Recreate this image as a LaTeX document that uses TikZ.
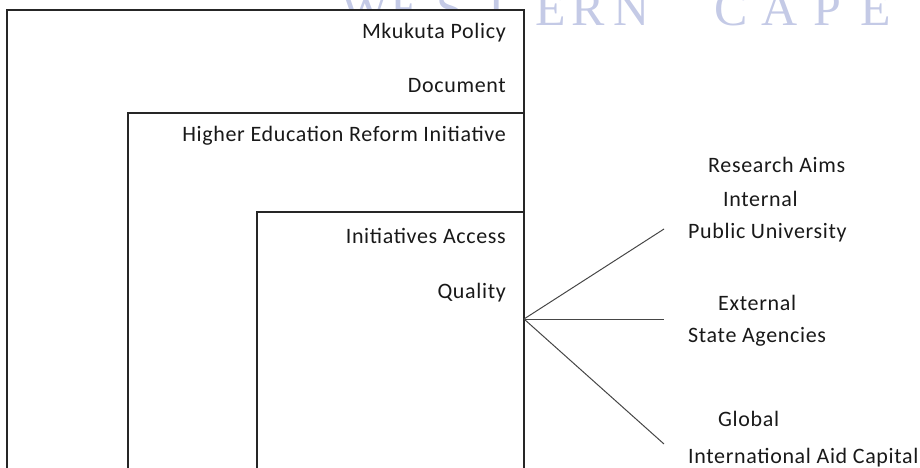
\documentclass[tikz,border=0pt]{standalone}
\usepackage{fontspec}
\setmainfont[LetterSpace=3]{Carlito}
\newfontfamily\wmfont{Liberation Serif}

\definecolor{wmblue}{RGB}{196,202,230}
\definecolor{fanline}{RGB}{70,70,70}

\begin{document}
\begin{tikzpicture}[x=1pt,y=-1pt,
    lbl/.style={font=\fontsize{22}{26}\selectfont,inner sep=0pt,black!90},
    frame/.style={line width=1.3pt,black!85},
    spoke/.style={line width=1pt,fanline}]
    \useasboundingbox (0,0) rectangle (920,468);

    \foreach \ch/\cx in {W/365,E/406,S/450,T/497,E/551,R/588,N/632,C/731,A/780,P/827,E/876}
        \node[wmblue,font=\wmfont\fontsize{50}{50}\selectfont,anchor=base,inner sep=0pt] at (\cx,26) {\ch};

    \fill[white] (7,10) rectangle (524,468);
    \draw[frame] (7,470) -- (7,10) -- (524,10) -- (524,470);
    \draw[frame] (128,470) -- (128,113) -- (524,113);
    \draw[frame] (257,470) -- (257,212) -- (524,212);

    \node[lbl,anchor=base east] (mkukuta) at (506,39) {Mkukuta Policy};
    \node[lbl,anchor=base east] (document) at (506,93) {Document};
    \node[lbl,anchor=base east] (reform) at (506,142) {Higher Education Reform Initiative};
    \node[lbl,anchor=base east] (access) at (506,243) {Initiatives Access};
    \node[lbl,anchor=base east] (quality) at (506,298) {Quality};

    \coordinate (hub) at (524,319);
    \coordinate (inner) at (664,229);
    \coordinate (outer) at (664,319);
    \coordinate (world) at (664,444);
    \foreach \e in {inner,outer,world}
        \draw[spoke] (hub) -- (\e);

    \node[lbl,anchor=base west] (aims) at (708,172) {Research Aims};
    \node[lbl,anchor=base west] (internal) at (723,206) {Internal};
    \node[lbl,anchor=base west] (public) at (688,238) {Public University};
    \node[lbl,anchor=base west] (external) at (718,310) {External};
    \node[lbl,anchor=base west] (state) at (688,342) {State Agencies};
    \node[lbl,anchor=base west] (global) at (718,426) {Global};
    \node[lbl,anchor=base west] (intl) at (688,463) {International Aid Capital};
\end{tikzpicture}
\end{document}
